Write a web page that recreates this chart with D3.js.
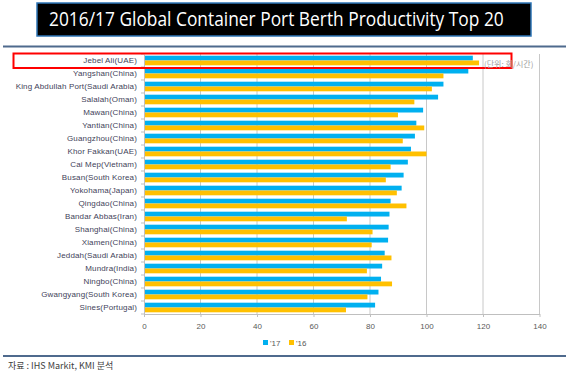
<!DOCTYPE html>
<html>
<head>
<meta charset="utf-8">
<script src="https://cdn.jsdelivr.net/npm/d3@7"></script>
<style>
  body { margin: 0; background: #fff; }
  svg { display: block; }
</style>
</head>
<body>
<div id="chart"></div>
<script>
var ports = [
    'Jebel Ali(UAE)', 'Yangshan(China)', 'King Abdullah Port(Saudi Arabia)', 'Salalah(Oman)',
    'Mawan(China)', 'Yantian(China)', 'Guangzhou(China)', 'Khor Fakkan(UAE)',
    'Cai Mep(Vietnam)', 'Busan(South Korea)', 'Yokohama(Japan)', 'Qingdao(China)',
    'Bandar Abbas(Iran)', 'Shanghai(China)', 'Xiamen(China)', 'Jeddah(Saudi Arabia)',
    'Mundra(India)', 'Ningbo(China)', 'Gwangyang(South Korea)', 'Sines(Portugal)'
];
var values17 = [116.4, 114.8, 106.0, 104.1, 98.8, 96.4, 95.9, 94.5, 93.4, 91.9,
                91.2, 87.3, 86.9, 86.6, 86.4, 85.2, 84.3, 83.9, 83.0, 81.8];
var values16 = [118.6, 106.0, 101.9, 95.7, 89.9, 99.2, 91.6, 100.0, 87.3, 85.6,
                89.5, 92.9, 71.8, 80.9, 80.6, 87.6, 78.9, 87.8, 79.1, 71.5];
var seriesNames = ["'17", "'16"];
var xTicks = [0, 20, 40, 60, 80, 100, 120, 140];

var width = 570, height = 372;
var colors = { "'17": '#00b0f0', "'16": '#ffc000' };

var svg = d3.select('#chart').append('svg')
    .attr('width', width)
    .attr('height', height);

// title box
svg.append('rect')
    .attr('x', 37).attr('y', 3)
    .attr('width', 494).attr('height', 33)
    .attr('fill', '#000')
    .attr('stroke', '#2e75b6')
    .attr('stroke-width', 1.5);
var title = svg.append('text')
    .attr('fill', '#fff')
    .attr('font-family', '"Liberation Sans Narrow", "Open Sans", sans-serif')
    .attr('font-size', 20)
    .text('2016/17 Global Container Port Berth Productivity Top 20');
// squeeze the title to fit the box like the original condensed face
var titleLen = title.node().getComputedTextLength();
var sx = Math.min(1, 455 / titleLen);
title.attr('transform', 'translate(49,26) scale(' + sx + ',1)');

// separators
svg.append('line')
    .attr('x1', 3).attr('x2', 566).attr('y1', 46.5).attr('y2', 46.5)
    .attr('stroke', '#4f6a8d').attr('stroke-width', 2);
svg.append('line')
    .attr('x1', 3).attr('x2', 566).attr('y1', 356).attr('y2', 356)
    .attr('stroke', '#4f6a8d').attr('stroke-width', 2);

var margin = { left: 144, top: 54, right: 30.5, bottom: 58 };
var x = d3.scaleLinear().domain([0, 140]).range([margin.left, width - margin.right]);
var y = d3.scaleBand().domain(ports).range([margin.top, height - margin.bottom])
    .paddingInner(0.26).paddingOuter(0.13);
var ySub = d3.scaleBand().domain(seriesNames).range([0, y.bandwidth()]);

var rows = ports.map(function (p, i) {
    return { name: p, vals: [
        { key: "'17", v: values17[i] },
        { key: "'16", v: values16[i] }
    ] };
});

// gridlines
svg.append('g').selectAll('line')
    .data(xTicks.slice(1)).enter()
    .append('line')
    .attr('x1', function (d) { return x(d); })
    .attr('x2', function (d) { return x(d); })
    .attr('y1', margin.top)
    .attr('y2', height - margin.bottom)
    .attr('stroke', '#c8c8c8')
    .attr('stroke-width', 1);

// bars
var g = svg.append('g').selectAll('g')
    .data(rows).enter()
    .append('g')
    .attr('transform', function (d) { return 'translate(0,' + y(d.name) + ')'; });

g.selectAll('rect')
    .data(function (d) { return d.vals; }).enter()
    .append('rect')
    .attr('x', x(0))
    .attr('y', function (d) { return ySub(d.key); })
    .attr('height', ySub.bandwidth())
    .attr('width', function (d) { return x(d.v) - x(0); })
    .attr('fill', function (d) { return colors[d.key]; });

// y axis
var yAxis = svg.append('g')
    .attr('transform', 'translate(' + x(0) + ',0)')
    .call(d3.axisLeft(y).tickSize(0).tickPadding(7));
yAxis.select('.domain').attr('stroke', '#bfbfbf');
yAxis.selectAll('text')
    .attr('font-family', '"Liberation Sans", Arial, sans-serif')
    .attr('font-size', 8)
    .attr('fill', '#3f3f5a')
    .attr('letter-spacing', 0.15);
// category separators on the y axis
svg.append('g').selectAll('line')
    .data(d3.range(ports.length + 1)).enter()
    .append('line')
    .attr('x1', x(0) - 3).attr('x2', x(0))
    .attr('y1', function (i) { return margin.top + i * (height - margin.bottom - margin.top) / ports.length; })
    .attr('y2', function (i) { return margin.top + i * (height - margin.bottom - margin.top) / ports.length; })
    .attr('stroke', '#bfbfbf');

// x axis
var xAxis = svg.append('g')
    .attr('transform', 'translate(0,' + (height - margin.bottom) + ')')
    .call(d3.axisBottom(x).tickValues(xTicks).tickSize(3).tickSizeOuter(0).tickPadding(6));
xAxis.select('.domain').attr('stroke', '#bfbfbf');
xAxis.selectAll('line').attr('stroke', '#bfbfbf');
xAxis.selectAll('text')
    .attr('font-family', '"Liberation Sans", Arial, sans-serif')
    .attr('font-size', 8)
    .attr('fill', '#595959');

// highlight box
svg.append('rect')
    .attr('x', 13.5).attr('y', 53.5)
    .attr('width', 498).attr('height', 14.5)
    .attr('fill', 'none')
    .attr('stroke', '#ff0000')
    .attr('stroke-width', 2);

// unit label
svg.append('text')
    .attr('x', 484).attr('y', 67)
    .attr('font-family', '"Noto Sans CJK KR", sans-serif')
    .attr('font-size', 8)
    .attr('fill', '#a0a0a0')
    .text('(단위: 회/시간)');

// legend
var legend = svg.append('g').selectAll('g')
    .data(seriesNames).enter()
    .append('g')
    .attr('transform', function (d, i) { return 'translate(' + (263 + i * 26) + ',340)'; });
legend.append('rect')
    .attr('width', 5).attr('height', 5)
    .attr('fill', function (d) { return colors[d]; });
legend.append('text')
    .attr('x', 7).attr('y', 5.5)
    .attr('font-family', '"Liberation Sans", Arial, sans-serif')
    .attr('font-size', 8)
    .attr('fill', '#595959')
    .text(function (d) { return d; });

// source
svg.append('text')
    .attr('x', 8).attr('y', 369)
    .attr('font-family', '"Noto Sans CJK KR", sans-serif')
    .attr('font-size', 9)
    .attr('fill', '#404040')
    .text('자료 : IHS Markit, KMI 분석');
</script>
</body>
</html>
